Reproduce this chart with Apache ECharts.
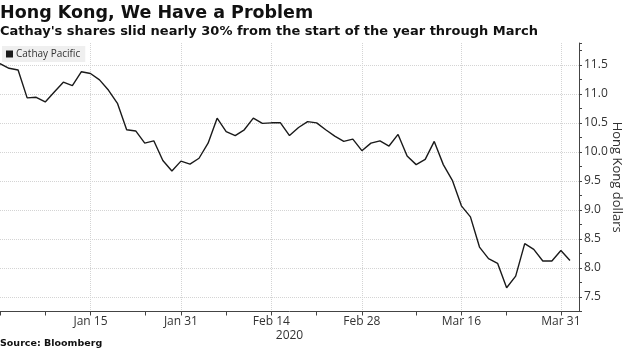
<!DOCTYPE html>
<html>
<head>
<meta charset="utf-8">
<title>Hong Kong, We Have a Problem</title>
<script src="https://cdn.jsdelivr.net/npm/echarts@6/dist/echarts.min.js"></script>
<style>
  html, body { margin: 0; padding: 0; background: #fff; }
  #chart { width: 624px; height: 351px; }
</style>
</head>
<body>
<div id="chart"></div>
<script>
// HK trading days, Dec 31 2019 - Apr 1 2020 (+1 empty slot at the right edge)
var dates = [
  'Dec 31', 'Jan 2', 'Jan 3', 'Jan 6', 'Jan 7', 'Jan 8', 'Jan 9', 'Jan 10', 'Jan 13', 'Jan 14',
  'Jan 15', 'Jan 16', 'Jan 17', 'Jan 20', 'Jan 21', 'Jan 22', 'Jan 23', 'Jan 24', 'Jan 29', 'Jan 30',
  'Jan 31', 'Feb 3', 'Feb 4', 'Feb 5', 'Feb 6', 'Feb 7', 'Feb 10', 'Feb 11', 'Feb 12', 'Feb 13',
  'Feb 14', 'Feb 17', 'Feb 18', 'Feb 19', 'Feb 20', 'Feb 21', 'Feb 24', 'Feb 25', 'Feb 26', 'Feb 27',
  'Feb 28', 'Mar 2', 'Mar 3', 'Mar 4', 'Mar 5', 'Mar 6', 'Mar 9', 'Mar 10', 'Mar 11', 'Mar 12',
  'Mar 13', 'Mar 16', 'Mar 17', 'Mar 18', 'Mar 19', 'Mar 20', 'Mar 23', 'Mar 24', 'Mar 25', 'Mar 26',
  'Mar 27', 'Mar 30', 'Mar 31', 'Apr 1', 'Apr 2'
];

// Cathay Pacific close, HKD
var cathay = [
  11.52, 11.44, 11.41, 10.93, 10.94, 10.86, 11.03, 11.20, 11.14, 11.38,
  11.35, 11.24, 11.06, 10.83, 10.38, 10.36, 10.15, 10.19, 9.85, 9.67,
  9.84, 9.79, 9.89, 10.15, 10.58, 10.35, 10.28, 10.38, 10.58, 10.49,
  10.50, 10.50, 10.28, 10.42, 10.52, 10.50, 10.38, 10.27, 10.18, 10.22,
  10.02, 10.15, 10.19, 10.10, 10.30, 9.93, 9.78, 9.87, 10.18, 9.78,
  9.51, 9.07, 8.88, 8.36, 8.16, 8.08, 7.66, 7.86, 8.42, 8.32,
  8.12, 8.12, 8.30, 8.13, null
];

var labelDays = ['Jan 15', 'Jan 31', 'Feb 14', 'Feb 28', 'Mar 16', 'Mar 31'];
var tickDays = ['Dec 31', 'Jan 8', 'Jan 15', 'Jan 23', 'Jan 31', 'Feb 7', 'Feb 14',
  'Feb 21', 'Feb 28', 'Mar 9', 'Mar 16', 'Mar 23', 'Mar 31'];

var yMin = 7.25;
var yMax = 11.875;
var yStep = 0.25;

var axisFont = 'Open Sans';
var gridColor = '#d4d4d4';

// only every other quarter gets a grid line (the .5 ones)
var yGridColors = [];
for (var i = 0; i <= Math.floor((yMax - yMin) / yStep); i++) {
  yGridColors.push(i % 2 ? gridColor : 'rgba(0,0,0,0)');
}
yGridColors.push('rgba(0,0,0,0)'); // max end

var chart = echarts.init(document.getElementById('chart'), null, { renderer: 'canvas' });

var option = {
  backgroundColor: '#fff',
  animation: false,
  title: [{
    text: 'Hong Kong, We Have a Problem',
    left: 0, top: 4, padding: 0,
    textStyle: { fontFamily: 'DejaVu Sans', fontWeight: 'bold', fontSize: 17.5, color: '#111' }
  }, {
    text: "Cathay's shares slid nearly 30% from the start of the year through March",
    left: 0, top: 25, padding: 0,
    textStyle: { fontFamily: 'DejaVu Sans', fontWeight: 'bold', fontSize: 13, color: '#111' }
  }, {
    text: 'Source: Bloomberg',
    left: 0, top: 339, padding: 0,
    textStyle: { fontFamily: 'DejaVu Sans', fontWeight: 'bold', fontSize: 9.5, color: '#111' }
  }],
  legend: {
    data: ['Cathay Pacific'],
    left: 2, top: 46,
    padding: [3, 5, 3, 4],
    backgroundColor: '#efefef',
    icon: 'rect',
    itemWidth: 7, itemHeight: 7,
    itemGap: 4,
    textStyle: { fontFamily: axisFont, fontSize: 10, color: '#333', padding: [0, 0, 0, -2] }
  },
  grid: {
    left: 0, right: 45, top: 43, bottom: 39.5,
    containLabel: false,
    outerBoundsMode: 'none'
  },
  xAxis: {
    type: 'category',
    data: dates,
    boundaryGap: false,
    name: '2020',
    nameLocation: 'middle',
    nameGap: 18,
    nameMoveOverlap: false,
    nameTextStyle: { fontFamily: axisFont, fontSize: 12, color: '#333' },
    axisLine: { lineStyle: { color: '#444', width: 1 } },
    axisTick: {
      length: 4,
      lineStyle: { color: '#444' },
      interval: function (index, value) { return tickDays.indexOf(value) > -1; }
    },
    axisLabel: {
      fontFamily: axisFont, fontSize: 12, color: '#333', margin: 4,
      interval: function (index, value) { return labelDays.indexOf(value) > -1; }
    },
    splitLine: {
      show: true,
      lineStyle: { color: gridColor, type: 'dotted', width: 1 },
      interval: function (index, value) { return labelDays.indexOf(value) > -1; }
    }
  },
  yAxis: {
    type: 'value',
    position: 'right',
    min: yMin,
    max: yMax,
    interval: yStep,
    name: 'Hong Kong dollars',
    nameLocation: 'middle',
    nameRotate: -90,
    nameGap: 31,
    nameMoveOverlap: false,
    nameTextStyle: { fontFamily: axisFont, fontSize: 13, color: '#333' },
    axisLine: { show: true, lineStyle: { color: '#444', width: 1 } },
    axisTick: { show: true, length: 3, lineStyle: { color: '#444' } },
    axisLabel: {
      fontFamily: axisFont, fontSize: 12, color: '#333', margin: 5,
      formatter: function (v) {
        var d = v * 2;
        return Math.abs(d - Math.round(d)) < 1e-6 ? v.toFixed(1) : '';
      }
    },
    splitLine: {
      show: true,
      lineStyle: { color: yGridColors, type: 'dotted', width: 1 }
    }
  },
  series: [{
    name: 'Cathay Pacific',
    type: 'line',
    data: cathay,
    symbol: 'none',
    smooth: false,
    color: '#1a1a1a',
    itemStyle: { color: '#1a1a1a' },
    lineStyle: { color: '#1a1a1a', width: 1.4 }
  }]
};

chart.setOption(option);
</script>
</body>
</html>
